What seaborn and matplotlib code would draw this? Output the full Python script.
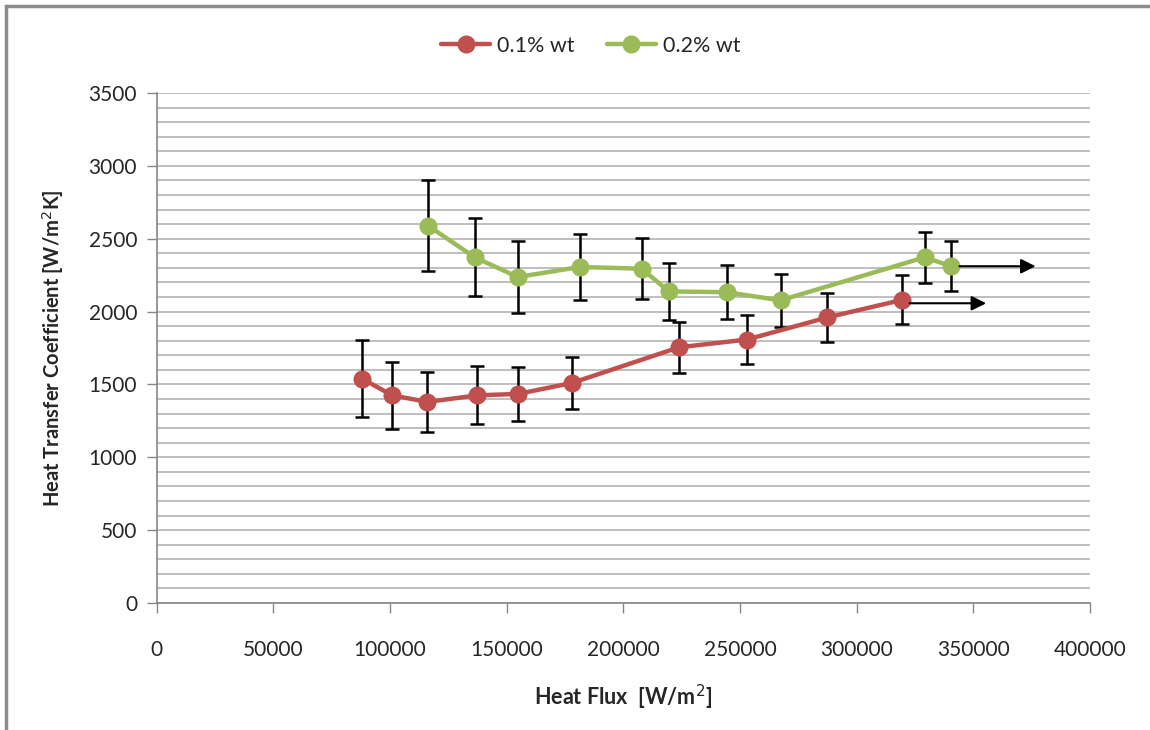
import pandas as pd
import matplotlib.pyplot as plt
import seaborn as sns
from matplotlib.ticker import MultipleLocator
from matplotlib.patches import Rectangle

# Datos: flujo de calor vs coeficiente de transferencia
flujo_01 = [88000, 101000, 116000, 137500, 155000, 178000, 224000, 253000, 287500, 319500]
htc_01 = [1540, 1425, 1380, 1425, 1435, 1510, 1755, 1808, 1960, 2080]
err_01 = [265, 230, 208, 198, 187, 180, 176, 166, 169, 168]

flujo_02 = [116300, 136400, 154800, 181400, 208000, 219500, 244300, 267400, 329100, 340300]
htc_02 = [2590, 2372, 2237, 2306, 2294, 2138, 2133, 2077, 2372, 2313]
err_02 = [315, 267, 244, 226, 210, 196, 187, 180, 174, 169]

series = ['0.1% wt', '0.2% wt']

# flechas (continuación de la tendencia)
flecha_inicio = [322700, 344100]
flecha_fin = [355500, 376700]
flecha_y = [2057, 2311]

df = pd.DataFrame({
    'Heat Flux': flujo_01 + flujo_02,
    'HTC': htc_01 + htc_02,
    'Serie': [series[0]] * len(flujo_01) + [series[1]] * len(flujo_02),
})

sns.set_style('white')
plt.rcParams['font.family'] = ['Lato', 'DejaVu Sans']

colores = {'0.1% wt': '#C0504D', '0.2% wt': '#9BBB59'}

fig = plt.figure(figsize=(11.5, 7.3), dpi=100)
ax = fig.add_axes([0.1361, 0.174, 0.8117, 0.6986])

# borde del área del gráfico
fig.patches.append(Rectangle((0.0055, -0.05), 1.2, 1.042, transform=fig.transFigure,
                             fill=False, edgecolor='#8C8C8C', linewidth=2.5))

ax.errorbar(flujo_01, htc_01, yerr=err_01, fmt='none', ecolor='black',
            elinewidth=1.8, capsize=5, capthick=1.8, zorder=2)
ax.errorbar(flujo_02, htc_02, yerr=err_02, fmt='none', ecolor='black',
            elinewidth=1.8, capsize=5, capthick=1.8, zorder=2)

sns.lineplot(data=df, x='Heat Flux', y='HTC', hue='Serie', palette=colores,
             marker='o', markersize=13, markeredgewidth=0, linewidth=3.2,
             sort=False, ax=ax, zorder=3)

for x0, x1, y in zip(flecha_inicio, flecha_fin, flecha_y):
    ax.annotate('', xy=(x1, y), xytext=(x0, y),
                arrowprops=dict(arrowstyle='-|>', color='black', lw=1.5,
                                mutation_scale=22, shrinkA=0, shrinkB=0))

ax.set_xlim(0, 400000)
ax.set_ylim(0, 3500)
ax.xaxis.set_major_locator(MultipleLocator(50000))
ax.yaxis.set_major_locator(MultipleLocator(500))
ax.yaxis.set_minor_locator(MultipleLocator(100))
ax.grid(True, which='both', axis='y', color='#B4B4B4', linewidth=1.2)
ax.set_axisbelow(True)

for lado in ['top', 'right']:
    ax.spines[lado].set_visible(False)
for lado in ['left', 'bottom']:
    ax.spines[lado].set_color('#868686')
    ax.spines[lado].set_linewidth(1.2)

ax.tick_params(axis='y', which='major', length=7, width=1, color='#868686',
               direction='out', left=True, labelsize=15, pad=7)
ax.tick_params(axis='y', which='minor', length=0)
ax.tick_params(axis='x', which='major', length=7, width=1, color='#868686',
               direction='out', bottom=True, labelsize=15, pad=20)

ax.set_xlabel('Heat Flux  [W/m$^2$]', fontsize=15.5, fontweight='bold', labelpad=16)
ax.set_ylabel('Heat Transfer Coefficient [W/m$^2$K]', fontsize=14.5, fontweight='bold', labelpad=16)

ax.legend(loc='upper center', bbox_to_anchor=(0.465, 1.15), ncol=2, frameon=False,
          fontsize=15.5, handlelength=2.3, handletextpad=0.3, columnspacing=1.5)

plt.savefig('out.png', dpi=100)
